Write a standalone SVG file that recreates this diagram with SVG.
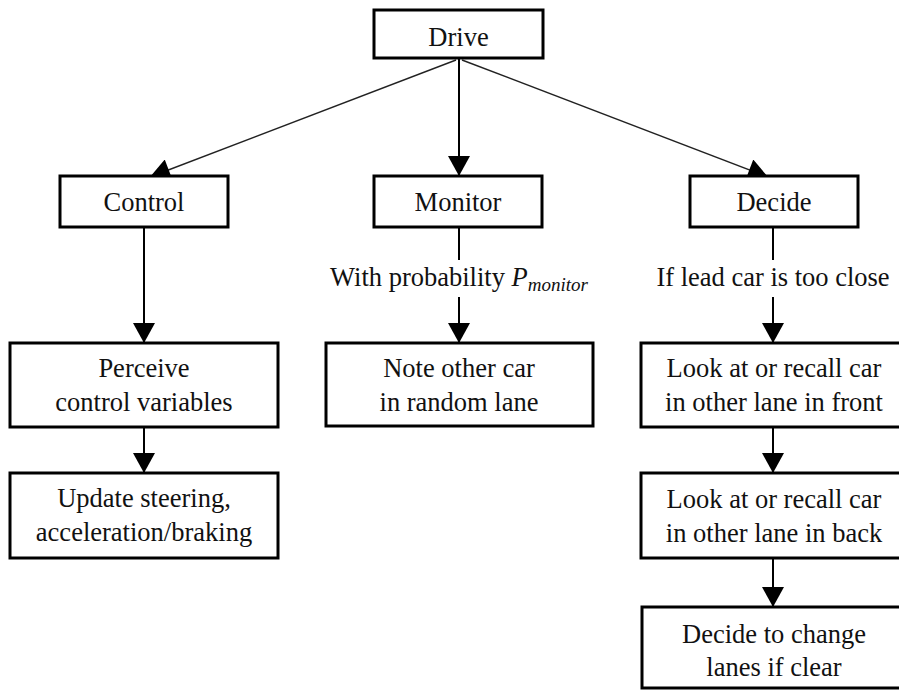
<svg xmlns="http://www.w3.org/2000/svg" width="899" height="690" viewBox="0 0 899 690">
<style>
.box{fill:#fff;stroke:#000;stroke-width:3}
.t{font-size:26.5px;fill:#111;text-anchor:middle}
.v{stroke:#000;stroke-width:2;fill:none}
.d{stroke:#222;stroke-width:1.4;fill:none}
</style>
<defs>
<marker id="ah" markerUnits="userSpaceOnUse" markerWidth="22" markerHeight="22" viewBox="0 0 20 22" refX="20" refY="11" orient="auto">
<path d="M0,0 L20,11 L0,22 z" fill="#000"/>
</marker>
</defs>
<rect width="899" height="690" fill="#fff"/>
<g font-family="Liberation Serif, Times New Roman, DejaVu Serif, serif">
<g id="connectors">
<line class="d" x1="456" y1="60" x2="150" y2="177" marker-end="url(#ah)"/>
<line class="v" x1="459" y1="58" x2="459" y2="176" marker-end="url(#ah)"/>
<line class="d" x1="462" y1="60" x2="768" y2="177" marker-end="url(#ah)"/>
<line class="v" x1="144" y1="227" x2="144" y2="343" marker-end="url(#ah)"/>
<line class="v" x1="144" y1="427" x2="144" y2="473" marker-end="url(#ah)"/>
<line class="v" x1="459" y1="227" x2="459" y2="260"/>
<line class="v" x1="459" y1="297" x2="459" y2="343" marker-end="url(#ah)"/>
<line class="v" x1="773" y1="227" x2="773" y2="260"/>
<line class="v" x1="773" y1="297" x2="773" y2="343" marker-end="url(#ah)"/>
<line class="v" x1="773" y1="427" x2="773" y2="473" marker-end="url(#ah)"/>
<line class="v" x1="773" y1="558" x2="773" y2="607" marker-end="url(#ah)"/>
<text class="t" x="459" y="286">With probability <tspan font-style="italic">P</tspan><tspan font-style="italic" font-size="19" dy="5">monitor</tspan></text>
<text class="t" x="773" y="286">If lead car is too close</text>
</g>
<g id="drive">
<rect class="box" x="374" y="10" width="169" height="48"/>
<text class="t" x="458.5" y="46">Drive</text>
</g>
<g id="control">
<rect class="box" x="60" y="176" width="168" height="51"/>
<text class="t" x="144" y="211">Control</text>
</g>
<g id="monitor">
<rect class="box" x="374" y="176" width="168" height="51"/>
<text class="t" x="458" y="211">Monitor</text>
</g>
<g id="decide">
<rect class="box" x="690" y="176" width="168" height="51"/>
<text class="t" x="774" y="211">Decide</text>
</g>
<g id="perceive">
<rect class="box" x="10" y="343" width="268" height="84"/>
<text class="t" x="144" y="377">Perceive</text>
<text class="t" x="144" y="411">control variables</text>
</g>
<g id="update">
<rect class="box" x="10" y="473" width="268" height="85"/>
<text class="t" x="144" y="507">Update steering,</text>
<text class="t" x="144" y="541">acceleration/braking</text>
</g>
<g id="note">
<rect class="box" x="326" y="343" width="267" height="83"/>
<text class="t" x="459" y="377">Note other car</text>
<text class="t" x="459" y="411">in random lane</text>
</g>
<g id="lookfront">
<rect class="box" x="641" y="343" width="265" height="84"/>
<text class="t" x="774" y="377">Look at or recall car</text>
<text class="t" x="774" y="411">in other lane in front</text>
</g>
<g id="lookback">
<rect class="box" x="641" y="473" width="265" height="85"/>
<text class="t" x="774" y="508">Look at or recall car</text>
<text class="t" x="774" y="542">in other lane in back</text>
</g>
<g id="change">
<rect class="box" x="642" y="607" width="264" height="81"/>
<text class="t" x="774" y="643">Decide to change</text>
<text class="t" x="774" y="676">lanes if clear</text>
</g>
</g>
</svg>
